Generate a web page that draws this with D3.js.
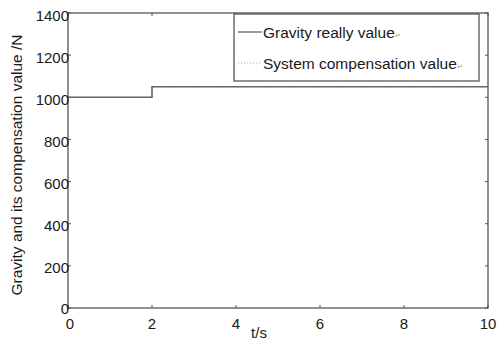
<!DOCTYPE html>
<html><head><meta charset="utf-8">
<script src="https://cdn.jsdelivr.net/npm/d3@7"></script>
<style>body{margin:0;background:#fff}svg{display:block}text{font-family:Arial,"Liberation Sans",sans-serif}</style>
</head><body><svg id="c" width="498" height="341"></svg>
<script>
const time = [0, 2, 2, 10];
const gravityReal = [1000, 1000, 1050, 1050];
const systemComp = [1000, 1000, 1050, 1050];
const xTicks = [0, 2, 4, 6, 8, 10];
const yTicks = [0, 200, 400, 600, 800, 1000, 1200, 1400];
const seriesNames = ["Gravity really value", "System compensation value"];

const svg = d3.select("#c");
const m = {l:68, r:10, t:13, b:33};
const W = 498, H = 341;
const x = d3.scaleLinear().domain([0,10]).range([m.l, W-m.r]);
const y = d3.scaleLinear().domain([0,1400]).range([H-m.b, m.t]);
const axCol = "#555";
const txtCol = "#1a1a1a";

svg.append("rect").attr("x",x(0)).attr("y",y(1400)).attr("width",x(10)-x(0)).attr("height",y(0)-y(1400))
  .attr("fill","none").attr("stroke",axCol).attr("stroke-width",1.3);

const tl = 3;
xTicks.forEach(t=>{
  svg.append("line").attr("x1",x(t)).attr("x2",x(t)).attr("y1",y(0)).attr("y2",y(0)-tl).attr("stroke",axCol);
  svg.append("line").attr("x1",x(t)).attr("x2",x(t)).attr("y1",y(1400)).attr("y2",y(1400)+tl).attr("stroke",axCol);
  svg.append("text").attr("x",x(t)+(t===0?2:0)).attr("y",y(0)+21).attr("text-anchor","middle").attr("font-size",15).attr("fill",txtCol).text(t);
});
yTicks.forEach(t=>{
  svg.append("line").attr("x1",x(0)).attr("x2",x(0)+tl).attr("y1",y(t)).attr("y2",y(t)).attr("stroke",axCol);
  svg.append("line").attr("x1",x(10)).attr("x2",x(10)-tl).attr("y1",y(t)).attr("y2",y(t)).attr("stroke",axCol);
  svg.append("text").attr("x",x(0)+1).attr("y",y(t)+(t===0?5.5:7.5)).attr("text-anchor","end").attr("font-size",15).attr("fill",txtCol).text(t);
});

svg.append("text").attr("x",259).attr("y",338).attr("text-anchor","middle").attr("font-size",15).attr("fill",txtCol).text("t/s");
svg.append("text").attr("transform","translate(22,165) rotate(-90)").attr("text-anchor","middle").attr("font-size",15.5).attr("fill",txtCol).text("Gravity and its compensation value /N");

const line = d3.line().x((d,i)=>x(time[i])).y(d=>y(d));
svg.append("path").datum(systemComp).attr("d",line).attr("fill","none").attr("stroke","#aaa").attr("stroke-width",1).attr("stroke-dasharray","1,2");
svg.append("path").datum(gravityReal).attr("d",line).attr("fill","none").attr("stroke","#666").attr("stroke-width",1.6);

const lg = svg.append("g");
lg.append("rect").attr("x",234).attr("y",14).attr("width",245).attr("height",67).attr("fill","#fff").attr("stroke",axCol).attr("stroke-width",1.3);
const ly = [32, 63];
const styles = [{c:"#666",w:1.3,d:null},{c:"#aaa",w:1,d:"1,2"}];
seriesNames.forEach((n,i)=>{
  lg.append("line").attr("x1",238).attr("x2",262).attr("y1",ly[i]).attr("y2",ly[i]).attr("stroke",styles[i].c).attr("stroke-width",styles[i].w).attr("stroke-dasharray",styles[i].d);
  const t = lg.append("text").attr("x",263).attr("y",ly[i]+5.5).attr("font-size",15.5).attr("fill",txtCol);
  t.append("tspan").text(n);
  t.append("tspan").attr("font-size",7).attr("fill","#999").text("↵");
});
</script></body></html>
